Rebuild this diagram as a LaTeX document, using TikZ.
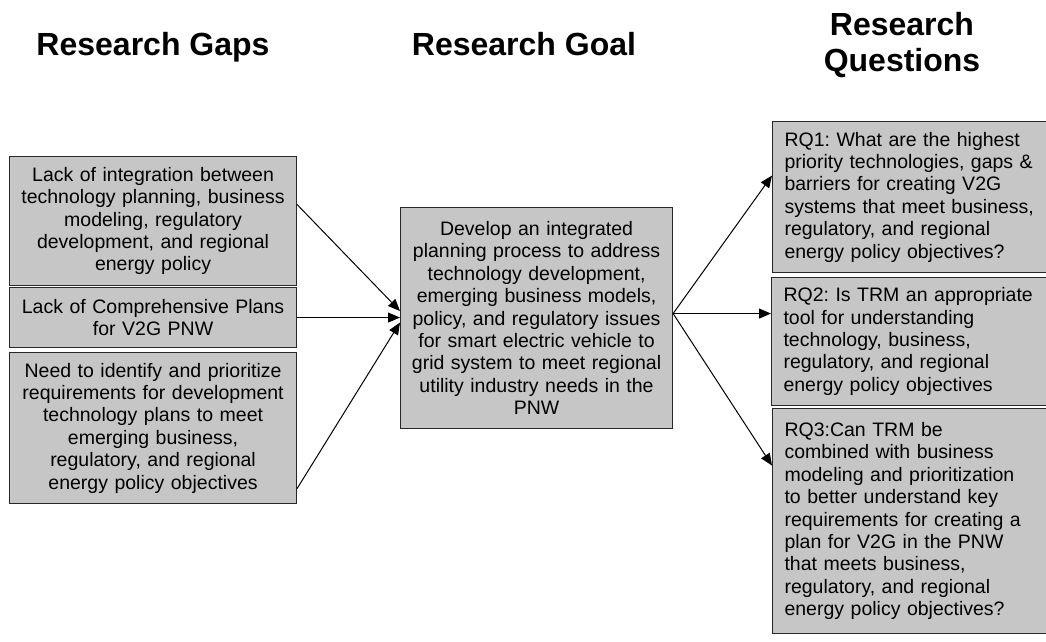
\documentclass[tikz,border=0pt]{standalone}
\usepackage{fontspec}
\setmainfont{Liberation Sans}
\usetikzlibrary{arrows.meta}
\definecolor{boxgray}{RGB}{198,198,198}
\definecolor{edge}{RGB}{40,40,40}
\newcommand{\bodyfont}{\fontsize{19.5}{22.4}\selectfont\frenchspacing}
\newcommand{\headfont}{\fontsize{32}{35.5}\selectfont\bfseries}
\tikzset{
  gapbox/.style={draw=edge, line width=1.1pt, fill=boxgray, inner xsep=4pt, inner ysep=0pt,
    anchor=north west, font=\bodyfont, align=center},
  rqbox/.style={gapbox, inner xsep=12pt, align=left, text width=256pt},
  header/.style={font=\headfont, align=center, inner sep=0pt},
  arr/.style={line width=1pt, -{Triangle[length=12pt,width=10pt]}}
}
\begin{document}
\frenchspacing
\begin{tikzpicture}[x=1pt,y=-1pt]
\path[use as bounding box] (0,0) rectangle (1046,642);
\clip (0,0) rectangle (1046,642);

\node[header, anchor=base] (h1) at (153,56) {Research Gaps};
\node[header, anchor=base] (h2) at (524,56) {Research Goal};
\node[header, anchor=base] (h3) at (902,71) {Research\\Questions};

\node[gapbox, text width=279pt, minimum height=129pt] (L1) at (9,156)
  {Lack of integration between\\technology planning, business\\modeling, regulatory\\development, and regional\\energy policy};
\node[gapbox, text width=279pt, minimum height=60pt] (L2) at (9,287)
  {Lack of Comprehensive Plans\\for V2G PNW};
\node[gapbox, text width=279pt, minimum height=151pt] (L3) at (9,352)
  {Need to identify and prioritize\\requirements for development\\technology plans to meet\\emerging business,\\regulatory, and regional\\energy policy objectives};

\node[gapbox, text width=264pt, minimum height=221pt] (C) at (400,207)
  {Develop an integrated\\planning process to address\\technology development,\\emerging business models,\\policy, and regulatory issues\\for smart electric vehicle to\\grid system to meet regional\\utility industry needs in the\\PNW};

\node[rqbox, minimum height=151pt] (R1) at (772,121)
  {RQ1: What are the highest\\priority technologies, gaps \&\\barriers for creating V2G\\systems that meet business,\\regulatory, and regional\\energy policy objectives?};
\node[rqbox, minimum height=128pt] (R2) at (771,277)
  {RQ2: Is TRM an appropriate\\tool for understanding\\technology, business,\\regulatory, and regional\\energy policy objectives};
\node[rqbox, minimum height=225pt] (R3) at (772,408)
  {RQ3:Can TRM be\\combined with business\\modeling and prioritization\\to better understand key\\requirements for creating a\\plan for V2G in the PNW\\that meets business,\\regulatory, and regional\\energy policy objectives?};

\draw[arr] ([yshift=16.5pt]L1.east) -- ([yshift=7pt]C.west);
\draw[arr] (L2.east) -- (L2.east -| C.west);
\draw[arr] ([yshift=-60.5pt]L3.east) -- ([yshift=-4.5pt]C.west);

\coordinate (cs) at ([yshift=4.5pt]C.east);
\draw[arr] (cs) -- ([yshift=21.5pt]R1.west);
\draw[arr] (cs) -- (cs -| R2.west);
\draw[arr] (cs) -- ([yshift=55.5pt]R3.west);
\end{tikzpicture}
\end{document}
